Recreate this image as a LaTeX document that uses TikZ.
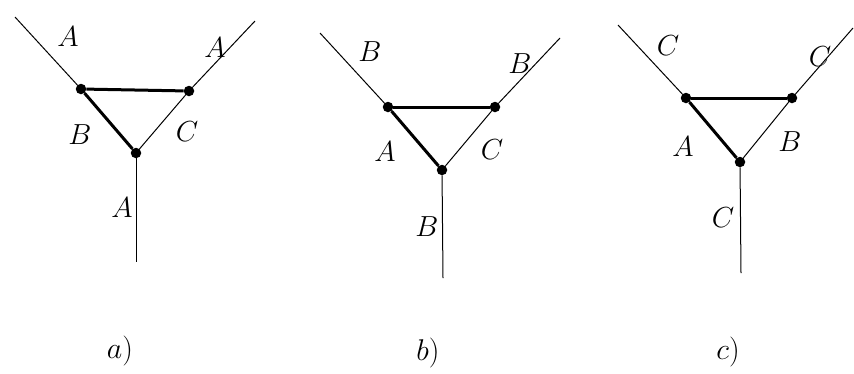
\RequirePackage{fix-cm}
\documentclass[tikz,border=0pt]{standalone}
\usepackage{amsmath, amssymb}
\usepackage{tikz}

\begin{document}
\begin{tikzpicture}[x=1pt, y=-1pt,
    dot/.style={circle, fill=black, inner sep=0pt, minimum size=10.5pt},
    wire/.style={draw, line width=1pt},
    bond/.style={draw, line width=3pt},
    lbl/.style={font=\fontsize{29}{33}\selectfont},
    subcap/.style={font=\fontsize{30}{34}\selectfont}]
    \useasboundingbox (0,0) rectangle (854,373);

    % a)
    \node[dot] (aL) at (81,89) {};
    \node[dot] (aR) at (189,91) {};
    \node[dot] (aD) at (136,153) {};
    \coordinate (aTL) at (15,17);
    \coordinate (aTR) at (255,21);
    \coordinate (aB) at (136,262);
    \draw[wire] (aTL) -- (aL);
    \draw[wire] (aTR) -- (aR);
    \draw[wire] (aD) -- (aB);
    \draw[wire] (aR) -- (aD);
    \draw[bond] (aL) -- (aR);
    \draw[bond] (aL) -- (aD);
    \node[lbl] (a1) at (68,37) {$A$};
    \node[lbl] (a2) at (215,48) {$A$};
    \node[lbl] (a3) at (80,135) {$B$};
    \node[lbl] (a4) at (187,132) {$C$};
    \node[lbl] (a5) at (122,208) {$A$};
    \node[subcap] (acap) at (120,351) {$a)$};

    % b)
    \node[dot] (bL) at (388,107) {};
    \node[dot] (bR) at (495,107) {};
    \node[dot] (bD) at (442,170) {};
    \coordinate (bTL) at (320,33);
    \coordinate (bTR) at (560,38);
    \coordinate (bB) at (443,278);
    \draw[wire] (bTL) -- (bL);
    \draw[wire] (bTR) -- (bR);
    \draw[wire] (bD) -- (bB);
    \draw[wire] (bR) -- (bD);
    \draw[bond] (bL) -- (bR);
    \draw[bond] (bL) -- (bD);
    \node[lbl] (b1) at (370,52) {$B$};
    \node[lbl] (b2) at (520,64) {$B$};
    \node[lbl] (b3) at (385,152) {$A$};
    \node[lbl] (b4) at (492,150) {$C$};
    \node[lbl] (b5) at (427,227) {$B$};
    \node[subcap] (bcap) at (428,353) {$b)$};

    % c)
    \node[dot] (cL) at (686,98) {};
    \node[dot] (cR) at (792,98) {};
    \node[dot] (cD) at (740,162) {};
    \coordinate (cTL) at (618,25);
    \coordinate (cTR) at (853,28);
    \coordinate (cB) at (741,273);
    \draw[wire] (cTL) -- (cL);
    \draw[wire] (cTR) -- (cR);
    \draw[wire] (cD) -- (cB);
    \draw[wire] (cR) -- (cD);
    \draw[bond] (cL) -- (cR);
    \draw[bond] (cL) -- (cD);
    \node[lbl] (c1) at (668,46) {$C$};
    \node[lbl] (c2) at (820,57) {$C$};
    \node[lbl] (c3) at (683,147) {$A$};
    \node[lbl] (c4) at (790,142) {$B$};
    \node[lbl] (c5) at (723,218) {$C$};
    \node[subcap] (ccap) at (728,352) {$c)$};
\end{tikzpicture}
\end{document}
